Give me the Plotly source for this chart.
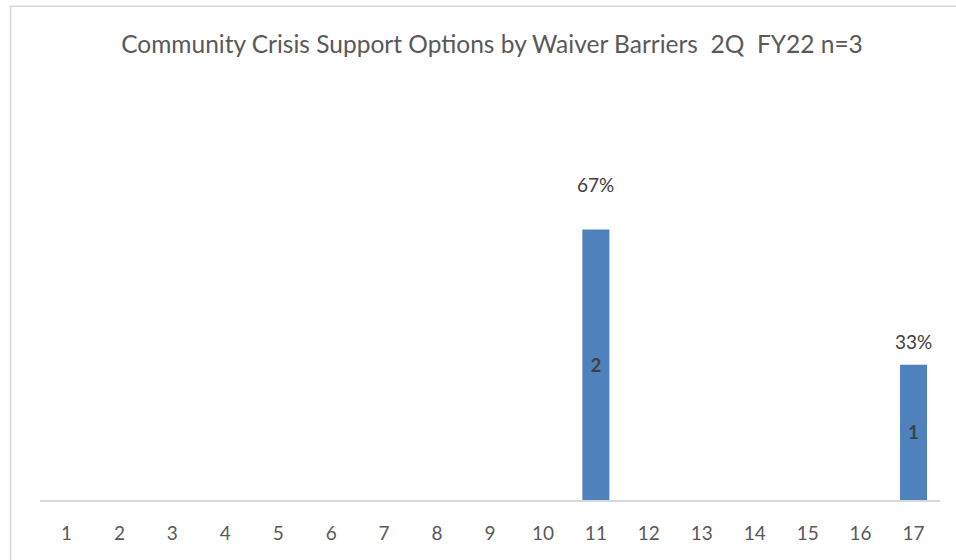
import plotly.graph_objects as go

categories = [str(i) for i in range(1, 18)]
counts = [0, 0, 0, 0, 0, 0, 0, 0, 0, 0, 2, 0, 0, 0, 0, 0, 1]
percent_labels = ["", "", "", "", "", "", "", "", "", "", "67%", "", "", "", "", "", "33%"]
title_text = "Community Crisis Support Options by Waiver Barriers  2Q  FY22 n=3"

W, H = 956, 560
L, R = 39.5, 940.5
T, B = 162, 500.5
pw, ph = R - L, B - T

def px_x(p):
    return (p - L) / pw

def px_y(p):
    return (B - p) / ph

bar_text = [str(v) if v else "" for v in counts]

fig = go.Figure()
fig.add_trace(go.Bar(
    x=categories, y=counts,
    marker=dict(color="#4f81bd", line=dict(width=0)),
    text=bar_text, textposition="inside", insidetextanchor="middle",
    textangle=0,
    textfont=dict(family="Lato", size=18, color="#404040", weight="bold"),
    hoverinfo="skip",
))

shifts = {"67%": 45, "33%": 23}
for i, (v, lab) in enumerate(zip(counts, percent_labels)):
    if lab:
        fig.add_annotation(x=i, y=v, text=lab, showarrow=False,
                           yanchor="middle", yshift=shifts[lab],
                           font=dict(family="Lato", size=19, color="#404040"))

# chart border (light gray frame)
fig.add_shape(type="rect", xref="paper", yref="paper",
              x0=px_x(10), x1=px_x(W + 20), y0=px_y(H + 20), y1=px_y(6),
              line=dict(color="#d9d9d9", width=1.5), fillcolor="rgba(0,0,0,0)",
              layer="below")

fig.update_layout(
    width=W, height=H,
    margin=dict(l=L, r=W - R, t=T, b=H - B, pad=0, autoexpand=False),
    paper_bgcolor="white", plot_bgcolor="white",
    bargap=0.49,
    showlegend=False,
    title=dict(text=title_text, x=492 / W, xanchor="center",
               y=1 - 44 / H, yanchor="middle",
               font=dict(family="Lato", size=24.5, color="#595959")),
    xaxis=dict(type="category", showgrid=False, showline=True,
               linecolor="#d9d9d9", linewidth=1.5, ticks="",
               tickfont=dict(family="Lato", size=19, color="#595959"),
               ticklabelstandoff=15, fixedrange=True),
    yaxis=dict(range=[0, 2.5], visible=False, showgrid=False, zeroline=False,
               fixedrange=True),
)

fig.write_html("out.html", config={"displayModeBar": False},
               post_script="document.body.style.margin='0';document.body.style.padding='0';")
